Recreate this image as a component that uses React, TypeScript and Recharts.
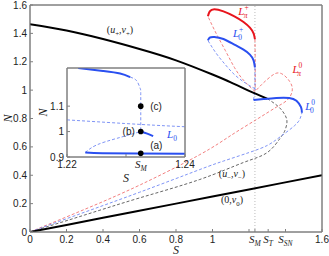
import React from "react";
import {
  LineChart,
  Line,
  XAxis,
  YAxis,
  ReferenceLine,
  ReferenceDot,
  ReferenceArea,
  CartesianGrid,
} from "recharts";

// special parameter values on the S axis
const SM = 1.2325;
const ST = 1.305;
const SSN = 1.4;

// main panel, points are [S, N]
const upperSolid = [[0, 1.464], [0.2, 1.42], [0.4, 1.36], [0.6, 1.29], [0.8, 1.21], [1.0, 1.11], [1.1, 1.055], [1.2, 0.995], [1.3, 0.94]];
const upperLowerDashed = [[1.3, 0.94], [1.36, 0.885], [1.395, 0.83], [1.408, 0.775], [1.395, 0.71], [1.37, 0.66], [1.3, 0.56], [1.17, 0.49], [0.93, 0.37], [0.6, 0.24], [0.3, 0.12], [0, 0]];
const zeroBranch = [[0, 0], [0.4, 0.1], [0.8, 0.2], [1.2, 0.3], [1.6, 0.4]];

const redLower = [[0, 0], [0.3, 0.16], [0.6, 0.33], [0.93, 0.545], [1.1, 0.68], [1.25, 0.8], [1.35, 0.88], [1.41, 0.93], [1.436, 0.99], [1.425, 1.057], [1.37, 1.12], [1.315, 1.092], [1.27, 1.04], [1.233, 0.99]];
const redDiag = [[1.233, 0.99], [1.17, 1.07], [1.12, 1.16], [1.07, 1.28], [1.02, 1.4], [0.975, 1.52]];
const redPlus = [[0.975, 1.52], [0.985, 1.555], [1.01, 1.57], [1.06, 1.555], [1.12, 1.52], [1.17, 1.48], [1.205, 1.44], [1.225, 1.4], [1.2325, 1.36]];
const redDrop = [[1.2325, 1.36], [1.234, 1.2], [1.234, 1.0]];

const blueLower = [[0, 0], [0.3, 0.14], [0.6, 0.28], [0.93, 0.44], [1.06, 0.5], [1.2, 0.56], [1.3, 0.61], [1.37, 0.67], [1.45, 0.75], [1.48, 0.8], [1.49, 0.84]];
const blueZero = [[1.49, 0.84], [1.485, 0.88], [1.46, 0.925], [1.42, 0.945], [1.35, 0.945], [1.28, 0.937], [1.225, 0.93]];
const blueFold = [[1.225, 0.93], [1.2325, 1.0]];
const blueDiag = [[1.233, 1.01], [1.18, 1.05], [1.12, 1.11], [1.07, 1.18], [1.02, 1.26], [0.975, 1.35]];
const bluePlus = [[0.975, 1.35], [0.985, 1.37], [1.01, 1.375], [1.06, 1.36], [1.12, 1.32], [1.17, 1.285], [1.205, 1.25], [1.225, 1.21], [1.2325, 1.16]];
const blueDrop = [[1.2325, 1.16], [1.2325, 1.0]];

// inset, zoom around S_M
const inTopSolid = [[1.2219, 1.25], [1.2261, 1.238], [1.229, 1.228], [1.2307, 1.214]];
const inTopDashed = [[1.2307, 1.214], [1.2318, 1.2], [1.2324, 1.17], [1.2325, 1.14], [1.2325, 1.0]];
const inMidSolid = [[1.2325, 1.0], [1.2336, 0.992], [1.2346, 0.982]];
const inFoldDashed = [[1.2231, 0.918], [1.225, 0.947], [1.2284, 0.973], [1.2325, 1.0]];
const inBottomSolid = [[1.2231, 0.918], [1.226, 0.915], [1.232, 0.914], [1.24, 0.913]];
const inDiag = [[1.22, 1.046], [1.2325, 1.028], [1.24, 1.019]];
const inPoints = [[SM, 0.915], [SM, 1.0], [SM, 1.1]];

const mainXTicks = [0, 0.2, 0.4, 0.6, 0.8, 1, 1.2, SM, ST, SSN, 1.6];
const mainXLabels = ["0", "0.2", "0.4", "0.6", "0.8", "1", "", "S|M", "S|T", "S|SN", "1.6"];
const mainYTicks = [0, 0.2, 0.4, 0.6, 0.8, 1, 1.2, 1.4, 1.6];
const inXTicks = [1.22, 1.23, SM, 1.24];
const inXLabels = ["1.22", "", "S|M", "1.24"];
const inYTicks = [0.9, 1, 1.1];

const serif = "'Liberation Serif', 'DejaVu Serif', serif";
const sans = "'Liberation Sans', Arial, sans-serif";
const grey = "#808080";
const ink = "#222";
const red = "#e8141c";
const redDash = "#f07070";
const blue = "#2a4ff0";
const blueDash = "#7088f4";

const pts = (a: number[][]) => a.map(([x, y]) => ({ x, y }));

type Part = { t: string; it?: boolean; sub?: boolean; sup?: boolean; dx?: number };

const mathLabel = (parts: Part[], size: number, color: string, anchor = "middle") => (p: any) => {
  const vb = p.viewBox || {};
  const cx = (vb.x || 0) + (vb.width || 0) / 2;
  const cy = (vb.y || 0) + (vb.height || 0) / 2;
  let shift = 0;
  return (
    <text x={cx} y={cy} dy={size * 0.35} textAnchor={anchor} fontFamily={serif} fontSize={size} fill={color}>
      {parts.map((q, i) => {
        const target = q.sub ? size * 0.3 : q.sup ? -size * 0.42 : 0;
        const dy = target - shift;
        shift = target;
        return (
          <tspan key={i} dy={dy} dx={q.dx} fontStyle={q.it ? "italic" : "normal"} fontSize={q.sub || q.sup ? size * 0.68 : size}>
            {q.t}
          </tspan>
        );
      })}
    </text>
  );
};

const plainLabel = (t: string, anchor: string) => (p: any) => {
  const vb = p.viewBox || {};
  return (
    <text x={vb.x} y={vb.y} dy={3.5} textAnchor={anchor} fontFamily={sans} fontSize={10} fill={ink}>
      {t}
    </text>
  );
};

const makeXTick = (ticks: number[], labels: string[], dy: number) => (props: any) => {
  const { x, y, payload } = props;
  const s = labels[ticks.indexOf(payload.value)] || "";
  if (s.includes("|")) {
    const [b, sub] = s.split("|");
    return (
      <text x={x} y={y} dy={dy} textAnchor="middle" fontFamily={serif} fontStyle="italic" fill={ink} fontSize={11}>
        <tspan>{b}</tspan>
        <tspan fontSize={7.5} dy={3}>{sub}</tspan>
      </text>
    );
  }
  return (
    <text x={x} y={y} dy={dy} textAnchor="middle" fontFamily={sans} fontSize={10} fill={ink}>
      {s}
    </text>
  );
};

const axisLabel = (t: string, rotate: boolean, dx: number, dy: number) => (p: any) => {
  const vb = p.viewBox || {};
  const x = rotate ? vb.x + dx : vb.x + vb.width / 2;
  const y = rotate ? vb.y + vb.height / 2 : vb.y + dy;
  return (
    <text x={x} y={y} textAnchor="middle" fontFamily={serif} fontStyle="italic" fontSize={12} fill={ink}
      transform={rotate ? `rotate(-90 ${x} ${y})` : undefined}>
      {t}
    </text>
  );
};

const solid = (d: number[][], color: string, k: string) => (
  <Line key={k} data={pts(d)} dataKey="y" type="natural" stroke={color} strokeWidth={2} dot={false} isAnimationActive={false} />
);
const dashed = (d: number[][], color: string, k: string) => (
  <Line key={k} data={pts(d)} dataKey="y" type="natural" stroke={color} strokeWidth={0.9} strokeDasharray="3 2" dot={false} isAnimationActive={false} />
);
// invisible series so the top/right frame axes get drawn
const ghost = (d: number[][]) => (
  <Line data={pts(d)} dataKey="y" xAxisId="top" yAxisId="right" stroke="none" dot={false} isAnimationActive={false} />
);

export default function App() {
  return (
    <div style={{ position: "absolute", left: 0, top: 0, width: 329, height: 256, background: "#fff" }}>
      <LineChart width={329} height={256} margin={{ top: 4, right: 6, bottom: 0, left: 0 }}>
        <XAxis type="number" dataKey="x" domain={[0, 1.6]} ticks={mainXTicks} interval={0} allowDataOverflow
          tick={makeXTick(mainXTicks, mainXLabels, 8)} tickSize={-3} tickMargin={6} height={24} stroke={grey}
          label={axisLabel("S", false, 0, 22)} />
        <XAxis xAxisId="top" orientation="top" type="number" dataKey="x" domain={[0, 1.6]} ticks={mainXTicks} interval={0}
          allowDataOverflow tick={false} tickSize={-3} height={1} stroke={grey} />
        <YAxis type="number" domain={[0, 1.6]} ticks={mainYTicks} interval={0} allowDataOverflow width={30}
          tickSize={-3} tickMargin={6} stroke={grey} tick={{ fontSize: 10, fill: ink, fontFamily: sans }}
          label={axisLabel("N", true, 12, 0)} />
        <YAxis yAxisId="right" orientation="right" type="number" domain={[0, 1.6]} ticks={mainYTicks} interval={0}
          allowDataOverflow tick={false} tickSize={-3} width={1} stroke={grey} />
        <ReferenceArea x1={0} x2={1.6} y1={0} y2={1.6} fill="none" stroke={grey} strokeWidth={1} />
        <ReferenceLine x={SM} stroke="#aaa" strokeDasharray="1 2" strokeWidth={0.8} />
        {ghost(zeroBranch)}
        {dashed(upperLowerDashed, "#555", "ud")}
        {dashed(redLower, redDash, "rl")}
        {dashed(redDiag, redDash, "rd")}
        {dashed(redDrop, redDash, "rv")}
        {dashed(blueLower, blueDash, "bl")}
        {dashed(blueFold, blueDash, "bf")}
        {dashed(blueDiag, blueDash, "bd")}
        {dashed(blueDrop, blueDash, "bv")}
        {solid(zeroBranch, "#000", "z")}
        {solid(upperSolid, "#000", "u")}
        {solid(redPlus, red, "rp")}
        {solid(bluePlus, blue, "bp")}
        {solid(blueZero, blue, "b0")}
        <ReferenceDot x={0.493} y={1.4} r={0} stroke="none" fill="none"
          label={mathLabel([{ t: "(" }, { t: "u", it: true }, { t: "+", sub: true }, { t: "," }, { t: "v", it: true }, { t: "+", sub: true }, { t: ")" }], 10, ink)} />
        <ReferenceDot x={1.107} y={0.388} r={0} stroke="none" fill="none"
          label={mathLabel([{ t: "(" }, { t: "u", it: true }, { t: "\u2212", sub: true }, { t: "," }, { t: "v", it: true }, { t: "\u2212", sub: true }, { t: ")" }], 10, ink)} />
        <ReferenceDot x={1.107} y={0.204} r={0} stroke="none" fill="none"
          label={mathLabel([{ t: "(0," }, { t: "v", it: true }, { t: "0", sub: true }, { t: ")" }], 10, ink)} />
        <ReferenceDot x={1.17} y={1.53} r={0} stroke="none" fill="none"
          label={mathLabel([{ t: "L", it: true }, { t: "+", sup: true }, { t: "\u03c0", sub: true, it: true, dx: -5 }], 11, red)} />
        <ReferenceDot x={1.14} y={1.375} r={0} stroke="none" fill="none"
          label={mathLabel([{ t: "L", it: true }, { t: "+", sup: true }, { t: "0", sub: true, dx: -5 }], 11, blue)} />
        <ReferenceDot x={1.465} y={1.12} r={0} stroke="none" fill="none"
          label={mathLabel([{ t: "L", it: true }, { t: "0", sup: true }, { t: "\u03c0", sub: true, it: true, dx: -5 }], 11, red)} />
        <ReferenceDot x={1.535} y={0.86} r={0} stroke="none" fill="none"
          label={mathLabel([{ t: "L", it: true }, { t: "0", sup: true }, { t: "0", sub: true, dx: -5 }], 11, blue)} />
      </LineChart>

      <div style={{ position: "absolute", left: 34, top: 62, width: 161, height: 125 }}>
        <LineChart width={161} height={125} margin={{ top: 5, right: 9, bottom: 0, left: 0 }}>
          <CartesianGrid fill="#fff" horizontal={false} vertical={false} />
          <XAxis type="number" dataKey="x" domain={[1.22, 1.24]} ticks={inXTicks} interval={0} allowDataOverflow
            tick={makeXTick(inXTicks, inXLabels, 8)} tickSize={-3} tickMargin={6} height={30} stroke={grey}
            label={axisLabel("S", false, 0, 25)} />
          <XAxis xAxisId="top" orientation="top" type="number" dataKey="x" domain={[1.22, 1.24]} ticks={inXTicks} interval={0}
            allowDataOverflow tick={false} tickSize={-3} height={1} stroke={grey} />
          <YAxis type="number" domain={[0.9, 1.25]} ticks={inYTicks} interval={0} allowDataOverflow width={33}
            tickSize={-3} tickMargin={6} stroke={grey} tick={{ fontSize: 10, fill: ink, fontFamily: sans }}
            label={axisLabel("N", true, 13, 0)} />
          <YAxis yAxisId="right" orientation="right" type="number" domain={[0.9, 1.25]} ticks={inYTicks} interval={0}
            allowDataOverflow tick={false} tickSize={-3} width={1} stroke={grey} />
          <ReferenceArea x1={1.22} x2={1.24} y1={0.9} y2={1.25} fill="none" stroke={grey} strokeWidth={1} />
          {ghost(inDiag)}
          {dashed(inTopDashed, blueDash, "itd")}
          {dashed(inFoldDashed, blueDash, "ifd")}
          {dashed(inDiag, blueDash, "idg")}
          {solid(inTopSolid, blue, "its")}
          {solid(inMidSolid, blue, "ims")}
          {solid(inBottomSolid, blue, "ibs")}
          {inPoints.map(([x, y], i) => (
            <ReferenceDot key={i} x={x} y={y} r={2.8} fill="#000" stroke="none" />
          ))}
          <ReferenceDot x={1.2341} y={1.1} r={0} stroke="none" fill="none" label={plainLabel("(c)", "start")} />
          <ReferenceDot x={1.2315} y={1.0} r={0} stroke="none" fill="none" label={plainLabel("(b)", "end")} />
          <ReferenceDot x={1.2341} y={0.947} r={0} stroke="none" fill="none" label={plainLabel("(a)", "start")} />
          <ReferenceDot x={1.2378} y={0.975} r={0} stroke="none" fill="none"
            label={mathLabel([{ t: "L", it: true }, { t: "0", sub: true }], 11, blue)} />
        </LineChart>
      </div>
    </div>
  );
}
